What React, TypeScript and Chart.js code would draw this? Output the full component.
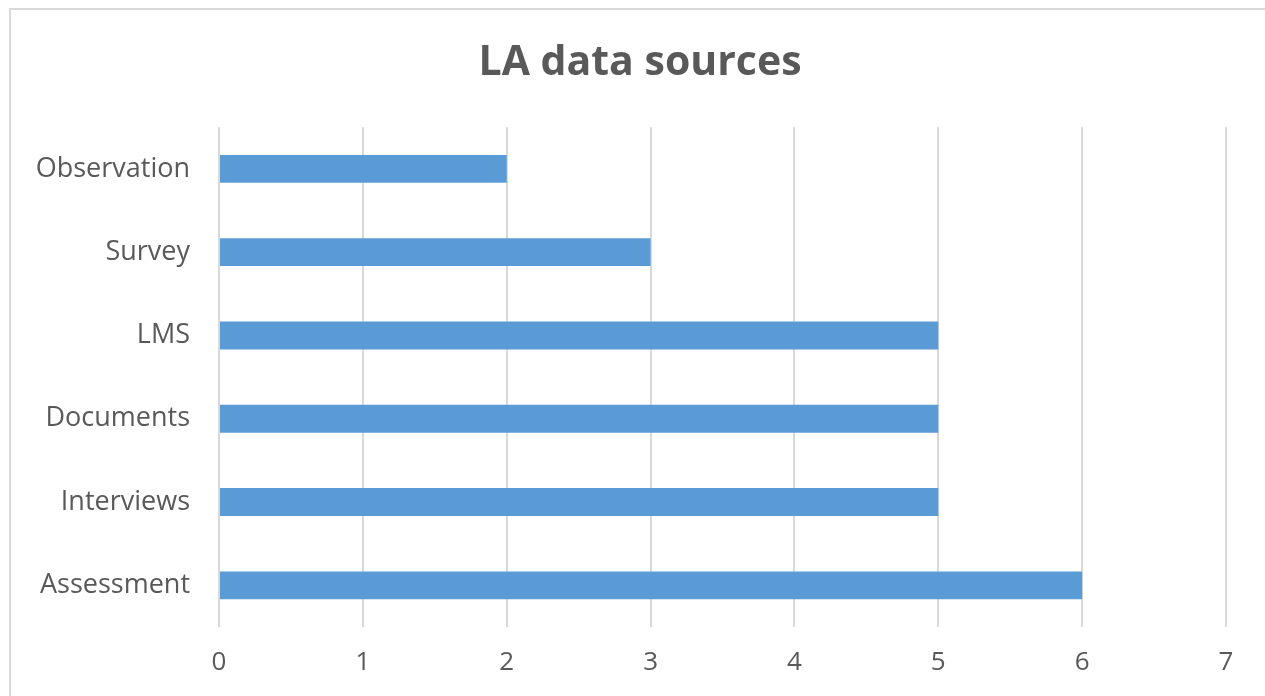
import React, { useEffect, useRef } from "react";
import { Chart, registerables } from "chart.js";

Chart.register(...registerables);

const categories = ["Observation", "Survey", "LMS", "Documents", "Interviews", "Assessment"];
const values = [2, 3, 5, 5, 5, 6];
const chartTitle = "LA data sources";
const xMin = 0;
const xMax = 7;

export default function App() {
  const ref = useRef<HTMLCanvasElement | null>(null);

  useEffect(() => {
    document.body.style.margin = "0";
    document.body.style.overflow = "hidden";
    const ctx = ref.current;
    if (!ctx) return;
    const font = "'Open Sans', 'DejaVu Sans', sans-serif";
    const chart = new Chart(ctx, {
      type: "bar",
      data: {
        labels: categories,
        datasets: [
          {
            data: values,
            backgroundColor: "#5B9BD5",
            borderWidth: 0,
            barPercentage: 0.67,
            categoryPercentage: 0.5,
            yAxisID: "y",
          },
        ],
      },
      options: {
        indexAxis: "y",
        animation: false,
        responsive: false,
        maintainAspectRatio: false,
        layout: { padding: 0 },
        plugins: {
          legend: { display: false },
          tooltip: { enabled: false },
          title: {
            display: true,
            text: chartTitle,
            color: "#595959",
            font: { family: font, size: 41, weight: "bold" },
            padding: { top: 39, bottom: 39 },
          },
        },
        scales: {
          x: {
            min: xMin,
            max: xMax,
            ticks: {
              stepSize: 1,
              color: "#595959",
              font: { family: font, size: 26 },
              padding: 20,
            },
            grid: { color: "#d9d9d9", lineWidth: 2, drawTicks: false },
            border: { display: false },
            afterFit: (scale: any) => {
              scale.height = 69;
            },
          },
          y: {
            ticks: {
              color: "#595959",
              font: { family: font, size: 27 },
              padding: 29,
            },
            grid: { display: false, drawTicks: false },
            border: { display: false },
            afterFit: (scale: any) => {
              scale.width = 219;
            },
          },
          yRight: {
            position: "right",
            display: true,
            ticks: { display: false },
            grid: { display: false, drawTicks: false },
            border: { display: false },
            afterFit: (scale: any) => {
              scale.width = 54;
            },
          },
        },
      },
    });
    return () => chart.destroy();
  }, []);

  return (
    <div style={{ position: "fixed", left: 0, top: 0, width: 1265, height: 696, overflow: "hidden", background: "#fff" }}>
      <div
        style={{
          position: "absolute",
          left: 9,
          top: 8,
          width: 1400,
          height: 800,
          border: "2px solid #d9d9d9",
          boxSizing: "border-box",
        }}
      />
      <canvas ref={ref} width={1280} height={696} style={{ position: "absolute", left: 0, top: 0 }} />
    </div>
  );
}
